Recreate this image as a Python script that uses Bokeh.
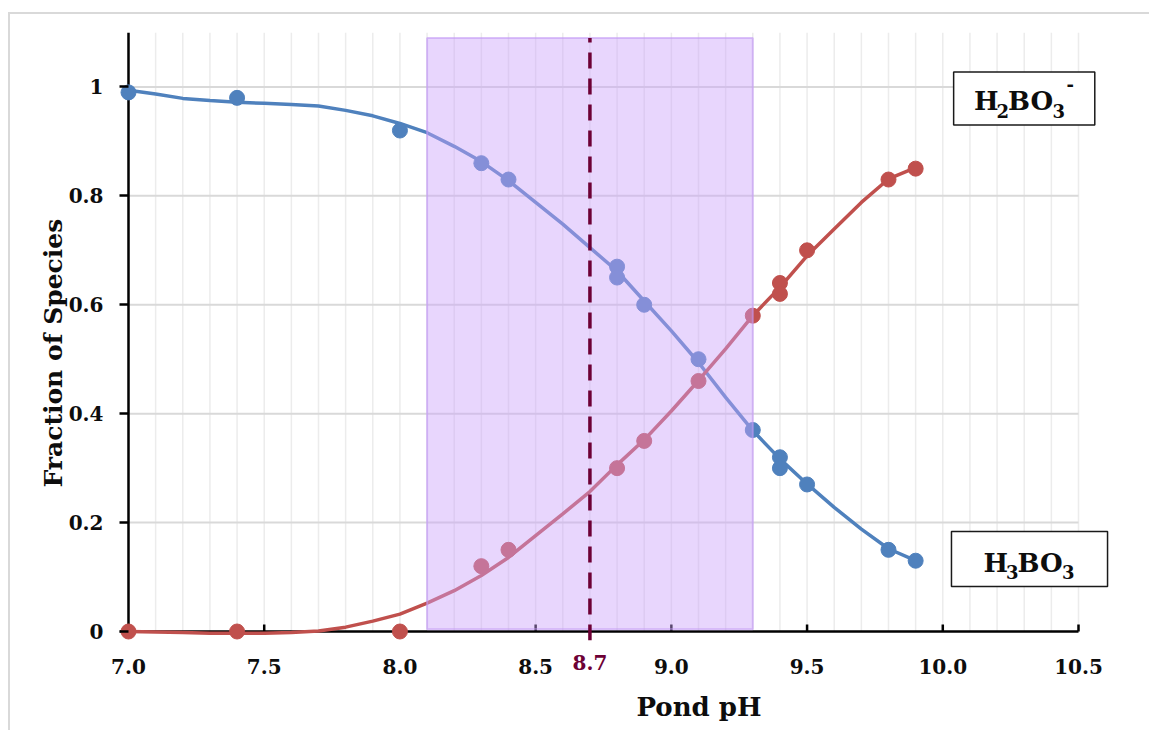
import math
from bokeh.plotting import figure
from bokeh.models import FixedTicker, Range1d, Label, BoxAnnotation, LinearAxis, Title
from bokeh.embed import file_html
from bokeh.resources import INLINE

FONT = "DejaVu Serif"

# ---------------- data ----------------
ph_h3bo3 = [7.0, 7.4, 8.0, 8.3, 8.4, 8.8, 8.8, 8.9, 9.1, 9.3, 9.4, 9.4, 9.5, 9.8, 9.9]
frac_h3bo3 = [0.99, 0.98, 0.92, 0.86, 0.83, 0.67, 0.65, 0.60, 0.50, 0.37, 0.32, 0.30, 0.27, 0.15, 0.13]

ph_h2bo3 = [7.0, 7.4, 8.0, 8.3, 8.4, 8.8, 8.9, 9.1, 9.3, 9.4, 9.4, 9.5, 9.8, 9.9]
frac_h2bo3 = [0.0, 0.0, 0.0, 0.12, 0.15, 0.30, 0.35, 0.46, 0.58, 0.64, 0.62, 0.70, 0.83, 0.85]

# smoothed trend curves (every 0.1 pH)
curve_ph = [7.0, 7.1, 7.2, 7.3, 7.4, 7.5, 7.6, 7.7, 7.8, 7.9,
            8.0, 8.1, 8.2, 8.3, 8.4, 8.5, 8.6, 8.7, 8.8, 8.9,
            9.0, 9.1, 9.2, 9.3, 9.4, 9.5, 9.6, 9.7, 9.8, 9.9]
curve_h3bo3 = [0.994, 0.987, 0.979, 0.975, 0.972, 0.970, 0.968, 0.965, 0.957, 0.947,
               0.933, 0.916, 0.891, 0.863, 0.828, 0.788, 0.748, 0.705, 0.662, 0.607,
               0.552, 0.494, 0.430, 0.369, 0.317, 0.271, 0.228, 0.188, 0.152, 0.130]
curve_h2bo3 = [0.000, -0.001, -0.002, -0.003, -0.003, -0.003, -0.002, 0.001, 0.008, 0.019,
               0.032, 0.052, 0.075, 0.103, 0.136, 0.176, 0.216, 0.257, 0.306, 0.352,
               0.405, 0.461, 0.519, 0.580, 0.632, 0.690, 0.739, 0.788, 0.831, 0.852]

# highlighted pH window and marker
window_low, window_high, window_top = 8.1, 9.3, 1.09
ph_marker = 8.7
ph_marker_label = "8.7"

x_tick_values = [7.0, 7.5, 8.0, 8.5, 9.0, 9.5, 10.0, 10.5]
x_tick_labels = ["7.0", "7.5", "8.0", "8.5", "9.0", "9.5", "10.0", "10.5"]
y_tick_values = [0, 0.2, 0.4, 0.6, 0.8, 1.0]
y_tick_labels = ["0", "0.2", "0.4", "0.6", "0.8", "1"]
x_minor_values = [round(7.0 + 0.1 * i, 1) for i in range(36)]

x_title = "Pond pH"
y_title = "Fraction of Species"

BLUE = "#4f81bd"
RED = "#c0504d"
MAROON = "#6d0035"
INK = "#0d0d0d"

X0, X1, Y0, Y1 = 7.0, 10.5, 0.0, 1.1

# ---------------- figure ----------------
PX_X = 271.43   # pixels per pH unit
PX_Y = 545.0    # pixels per fraction unit
x_lo = X0 - 9 / PX_X
x_hi = X1 + 32 / PX_X
y_lo = Y0 - 9 / PX_Y
p = figure(
    output_backend="svg", toolbar_location=None,
    x_range=Range1d(x_lo, x_hi), y_range=Range1d(y_lo, Y1),
    x_axis_location=None, y_axis_location=None,
    frame_width=991, frame_height=608,
    min_border_left=109, min_border_right=39, min_border_top=18, min_border_bottom=90,
    margin=(12, 0, 0, 8),
    styles={"border-top": "2px solid #d9d9d9", "border-left": "2px solid #d9d9d9"},
)
p.outline_line_color = None
p.background_fill_color = "white"
p.border_fill_color = "white"
for g in p.grid:
    g.visible = False

# axes (tick labels)
yax = LinearAxis(ticker=FixedTicker(ticks=y_tick_values),
                 major_label_overrides=dict(zip(y_tick_values, y_tick_labels)),
                 axis_line_color=None, major_tick_in=9, major_tick_out=0,
                 major_tick_line_color="black", major_tick_line_width=2.5,
                 minor_tick_line_color=None, minor_tick_in=0, minor_tick_out=0,
                 major_label_standoff=16)
mark_ax = LinearAxis(ticker=FixedTicker(ticks=[ph_marker]),
                     major_label_overrides={ph_marker: ph_marker_label},
                     axis_line_color=None, major_tick_line_color=None,
                     major_tick_in=0, major_tick_out=0,
                     minor_tick_line_color=None, minor_tick_in=0, minor_tick_out=0,
                     major_label_standoff=14)
xax = LinearAxis(ticker=FixedTicker(ticks=x_tick_values),
                 major_label_overrides=dict(zip(x_tick_values, x_tick_labels)),
                 axis_line_color=None, major_tick_line_color=None,
                 major_tick_in=0, major_tick_out=0,
                 minor_tick_line_color=None, minor_tick_in=0, minor_tick_out=0,
                 major_label_standoff=-14)
for ax in (yax, mark_ax, xax):
    ax.major_label_text_font = FONT
    ax.major_label_text_font_style = "bold"
    ax.major_label_text_font_size = "20px"
    ax.major_label_text_color = INK
mark_ax.major_label_text_color = MAROON
p.add_layout(yax, "left")
p.add_layout(mark_ax, "below")
p.add_layout(xax, "below")

p.add_layout(Title(text=x_title, align="left", offset=517, standoff=26, text_font=FONT,
                   text_font_style="bold", text_font_size="26px", text_color=INK), "below")
p.add_layout(Title(text=y_title, align="left", offset=153, standoff=-4, text_font=FONT,
                   text_font_style="bold", text_font_size="25px", text_color=INK), "left")

# grid lines (from tick values)
n = len(x_minor_values)
p.segment(x0=x_minor_values, y0=[Y0] * n, x1=x_minor_values, y1=[Y1] * n,
          line_color="#ececec", line_width=1.5)
yg = y_tick_values[1:]
p.segment(x0=[X0] * len(yg), y0=yg, x1=[X1] * len(yg), y1=yg,
          line_color="#d9d9d9", line_width=2)

# axis lines and x ticks
p.segment(x0=[X0], y0=[Y0], x1=[X0], y1=[Y1], line_color="black", line_width=2.5)
p.segment(x0=[x_lo], y0=[Y0], x1=[X1], y1=[Y0], line_color="black", line_width=2.5)
xt = x_tick_values[1:]
p.segment(x0=xt, y0=[Y0] * len(xt), x1=xt, y1=[7 / PX_Y] * len(xt),
          line_color="black", line_width=2.5)

# curves and points
p.line(curve_ph, curve_h3bo3, line_color=BLUE, line_width=3.5)
p.line(curve_ph, curve_h2bo3, line_color=RED, line_width=3.5)
p.scatter(ph_h3bo3, frac_h3bo3, size=15, fill_color=BLUE, line_color=BLUE)
p.scatter(ph_h2bo3, frac_h2bo3, size=15, fill_color=RED, line_color=RED)

# highlighted window drawn on top
p.quad(left=[window_low], right=[window_high], bottom=[0.004], top=[window_top],
       fill_color="#cba1fa", fill_alpha=0.44, line_color="#c39af5", line_alpha=0.6, line_width=2)

# marker line
p.segment(x0=[ph_marker], y0=[y_lo], x1=[ph_marker], y1=[window_top],
          line_color=MAROON, line_width=3.5, line_dash="16 10")

# species boxes
def species_box(left, right, bottom, top, parts):
    p.add_layout(BoxAnnotation(left=left, right=right, bottom=bottom, top=top,
                               fill_color="white", fill_alpha=1.0,
                               line_color="#1a1a1a", line_alpha=1.0, line_width=1.5))
    for txt, x, y, size in parts:
        p.add_layout(Label(x=x, y=y, text=txt,
                           text_font=FONT, text_font_style="bold",
                           text_font_size=f"{size}px", text_color=INK,
                           text_baseline="alphabetic", text_align="left"))

species_box(10.04, 10.56, 0.930, 1.0275,
            [("H", 10.115, 0.9745, 26), ("2", 10.198, 0.955, 18), ("BO", 10.240, 0.9745, 26),
             ("3", 10.404, 0.955, 18), ("-", 10.456, 1.005, 18)])
species_box(10.032, 10.607, 0.0826, 0.1835,
            [("H", 10.150, 0.1265, 26), ("3", 10.233, 0.110, 18), ("BO", 10.275, 0.1265, 26),
             ("3", 10.439, 0.110, 18)])

open("out.html", "w").write(file_html(p, INLINE))
